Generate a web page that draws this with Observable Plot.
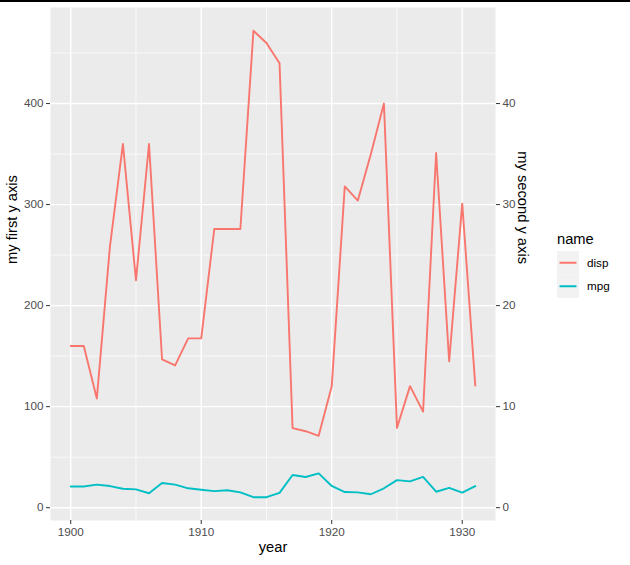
<!DOCTYPE html>
<html>
<head>
<meta charset="utf-8">
<script src="https://cdn.jsdelivr.net/npm/d3@7"></script>
<script src="https://cdn.jsdelivr.net/npm/@observablehq/plot@0.6"></script>
<style>
  html, body { margin: 0; padding: 0; background: #fff; }
  #wrap { position: relative; width: 630px; height: 565px; font-family: "Liberation Sans", Arial, sans-serif; }
  #topline { position: absolute; left: 0; top: 0; width: 630px; height: 2px; background: #000; }
  #legend { position: absolute; left: 557px; top: 228px; }
</style>
</head>
<body>
<div id="wrap"><div id="topline"></div></div>
<script>
const years = [1900,1901,1902,1903,1904,1905,1906,1907,1908,1909,1910,1911,1912,1913,1914,1915,
               1916,1917,1918,1919,1920,1921,1922,1923,1924,1925,1926,1927,1928,1929,1930,1931];
const disp = [160,160,108,258,360,225,360,146.7,140.8,167.6,167.6,275.8,275.8,275.8,472,460,
              440,78.7,75.7,71.1,120.1,318,304,350,400,79,120.3,95.1,351,145,301,121];
const mpg = [21,21,22.8,21.4,18.7,18.1,14.3,24.4,22.8,19.2,17.8,16.4,17.3,15.2,10.4,10.4,
             14.7,32.4,30.4,33.9,21.5,15.5,15.2,13.3,19.2,27.3,26,30.4,15.8,19.7,15,21.4];
const seriesNames = ["disp", "mpg"];
const seriesColors = ["#F8766D", "#00BFC4"];
const yMajor = [0, 100, 200, 300, 400];
const yMinor = [50, 150, 250, 350, 450];
const xMajor = [1900, 1910, 1920, 1930];
const xMinor = [1905, 1915, 1925];
const secondAxisLabels = ["0", "10", "20", "30", "40"];

const data = years.flatMap((yr, i) => [
  {year: yr, name: "disp", value: disp[i]},
  {year: yr, name: "mpg", value: mpg[i]}
]);

function expand(ext) { const r = ext[1] - ext[0]; return [ext[0] - 0.05 * r, ext[1] + 0.05 * r]; }
const xDom = expand(d3.extent(years));
const yDom = expand(d3.extent(data, d => d.value));

const tickFont = 11.7;
const titleFont = 14.7;

const plot = Plot.plot({
  width: 630,
  height: 565,
  marginLeft: 50,
  marginRight: 135,
  marginTop: 7,
  marginBottom: 45,
  x: {domain: xDom},
  y: {domain: yDom},
  color: {domain: seriesNames, range: seriesColors},
  style: {fontFamily: "Liberation Sans, Arial, sans-serif", fontSize: tickFont + "px", background: "transparent"},
  marks: [
    Plot.frame({fill: "#EBEBEB", stroke: null}),
    Plot.ruleY(yMinor, {stroke: "#fff", strokeWidth: 0.7}),
    Plot.ruleX(xMinor, {stroke: "#fff", strokeWidth: 0.7}),
    Plot.ruleY(yMajor, {stroke: "#fff", strokeWidth: 1.4}),
    Plot.ruleX(xMajor, {stroke: "#fff", strokeWidth: 1.4}),
    Plot.line(data, {x: "year", y: "value", z: "name", stroke: "name", strokeWidth: 1.9, curve: "linear"}),
    Plot.axisX({ticks: xMajor, tickSize: 4, tickPadding: 3, stroke: "#333333", fill: "#4D4D4D", fontSize: tickFont, label: null, tickFormat: d => String(d)}),
    Plot.axisY({anchor: "left", ticks: yMajor, tickSize: 4, tickPadding: 3, stroke: "#333333", fill: "#4D4D4D", fontSize: tickFont, label: null}),
    Plot.axisY({anchor: "right", ticks: yMajor, tickSize: 4, tickPadding: 3, stroke: "#333333", fill: "#4D4D4D", fontSize: tickFont, label: null,
                tickFormat: d => secondAxisLabels[yMajor.indexOf(d)]}),
    Plot.text(["my first y axis"], {text: d => d, frameAnchor: "left", dx: -38, rotate: -90, fontSize: titleFont, fill: "#000"}),
    Plot.text(["my second y axis"], {text: d => d, frameAnchor: "right", dx: 27, rotate: 90, fontSize: titleFont, fill: "#000"}),
    Plot.text(["year"], {text: d => d, frameAnchor: "bottom", dy: 31, fontSize: titleFont, fill: "#000"})
  ]
});

const wrap = document.getElementById("wrap");
wrap.insertBefore(plot, wrap.firstChild);

// legend
const colorScale = plot.scale("color");
const leg = d3.create("svg").attr("id", "legend").attr("width", 70).attr("height", 80)
  .style("font-family", "Liberation Sans, Arial, sans-serif");
leg.append("text").attr("x", 0).attr("y", 16).attr("font-size", titleFont).attr("fill", "#000").text("name");
seriesNames.forEach((n, i) => {
  const y0 = 23 + i * 23.5;
  leg.append("rect").attr("x", 0).attr("y", y0).attr("width", 22).attr("height", 23.5).attr("fill", "#F2F2F2");
  leg.append("line").attr("x1", 2.5).attr("x2", 19.5).attr("y1", y0 + 11.75).attr("y2", y0 + 11.75)
    .attr("stroke", colorScale.apply(n)).attr("stroke-width", 2);
  leg.append("text").attr("x", 30).attr("y", y0 + 11.75).attr("dy", "0.35em").attr("font-size", tickFont).attr("fill", "#000").text(n);
});
wrap.appendChild(leg.node());
</script>
</body>
</html>
